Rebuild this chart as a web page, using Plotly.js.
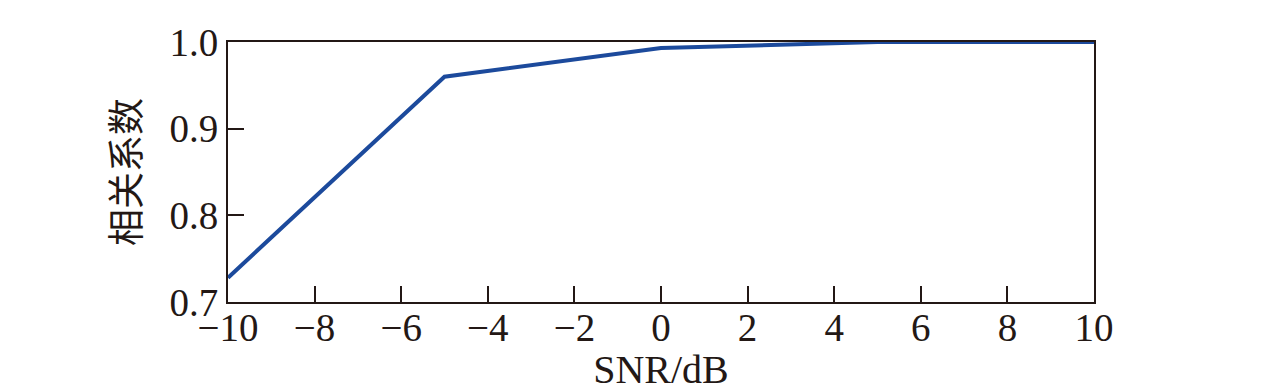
<!DOCTYPE html>
<html>
<head>
<meta charset="utf-8">
<script src="https://cdn.plot.ly/plotly-3.0.1.min.js"></script>
<style>html,body{margin:0;padding:0;background:#fff;}#chart{width:1276px;height:392px;}</style>
</head>
<body>
<div id="chart"></div>
<script>
const snr = [-10, -5, 0, 5, 10];
const corr = [0.728, 0.960, 0.993, 1.0, 1.0];
const xTicks = [-10, -8, -6, -4, -2, 0, 2, 4, 6, 8, 10];
const yTicks = [0.7, 0.8, 0.9, 1.0];
const xTitle = 'SNR/dB';
const yTitle = '相关系数';

const axisColor = '#231815';
const serif = 'Liberation Serif, Times New Roman, serif';

Plotly.newPlot('chart', [{
  x: snr, y: corr, type: 'scatter', mode: 'lines',
  line: {color: '#1c4a9c', width: 4},
  cliponaxis: false, hoverinfo: 'skip'
}], {
  width: 1276, height: 392,
  margin: {l: 228, r: 182, t: 42, b: 90},
  paper_bgcolor: '#fff', plot_bgcolor: '#fff',
  showlegend: false,
  xaxis: {
    range: [-10, 10], tickvals: xTicks, ticktext: xTicks.map(v => v < 0 ? '\u2212' + Math.abs(v) : String(v)),
    ticks: 'inside', ticklen: 16, tickwidth: 2, tickcolor: axisColor,
    showline: true, linecolor: axisColor, linewidth: 2, mirror: true,
    showgrid: false, zeroline: false,
    ticklabelstandoff: -10,
    tickfont: {family: serif, size: 39, color: '#231815'},
    title: {text: xTitle, font: {family: serif, size: 40, color: '#231815'}, standoff: 8}
  },
  yaxis: {
    range: [0.7, 1.0], tickvals: yTicks, ticktext: yTicks.map(v => v.toFixed(1)),
    ticks: 'inside', ticklen: 16, tickwidth: 2, tickcolor: axisColor,
    showline: true, linecolor: axisColor, linewidth: 2, mirror: true,
    showgrid: false, zeroline: false,
    tickfont: {family: serif, size: 39, color: '#231815'},
    title: {text: yTitle, font: {family: 'Noto Sans CJK SC, sans-serif', size: 37, color: '#231815'}, standoff: 18}
  }
}, {staticPlot: true});
</script>
</body>
</html>
